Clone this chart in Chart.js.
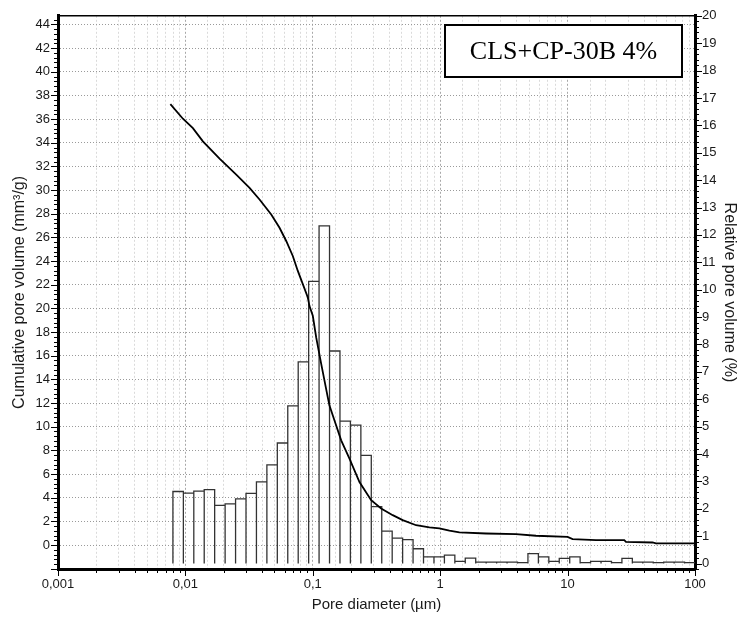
<!DOCTYPE html>
<html>
<head>
<meta charset="utf-8">
<script src="https://cdn.jsdelivr.net/npm/chart.js@4.4.1/dist/chart.umd.min.js"></script>
<style>
html,body{margin:0;padding:0;background:#fff;}
canvas{display:block;}
</style>
</head>
<body>
<canvas id="c" width="741" height="619"></canvas>
<script>
// ---- Data ----
// Histogram bin edges (pore diameter, µm) – 50 log-spaced classes
const binEdges = [0.00798, 0.00964, 0.01164, 0.01405, 0.01697, 0.02050, 0.02476, 0.02990, 0.03611, 0.04361,
  0.05266, 0.06360, 0.07681, 0.09279, 0.1120, 0.1353, 0.1634, 0.1973, 0.2384, 0.2878,
  0.3477, 0.4199, 0.5071, 0.6124, 0.7396, 0.8934, 1.079, 1.303, 1.573, 1.900,
  2.295, 2.772, 3.348, 4.044, 4.883, 5.898, 7.123, 8.601, 10.39, 12.54,
  15.15, 18.30, 22.10, 26.69, 32.23, 38.92, 47.01, 56.77, 68.57, 82.79, 100];
// Relative pore volume (%) per class
const relVolume = [2.63, 2.57, 2.64, 2.70, 2.12, 2.18, 2.36, 2.56, 2.98, 3.60,
  4.40, 5.76, 7.36, 10.30, 12.33, 7.76, 5.20, 5.05, 3.95, 2.08,
  1.18, 0.93, 0.87, 0.54, 0.24, 0.24, 0.31, 0.08, 0.20, 0.05,
  0.05, 0.05, 0.05, 0.03, 0.36, 0.24, 0.08, 0.19, 0.24, 0.03,
  0.08, 0.08, 0.03, 0.19, 0.05, 0.05, 0.03, 0.05, 0.05, 0.03];
// Cumulative pore volume curve (mm³/g)
const curveDiameter = [0.00762, 0.00956, 0.01145, 0.01372, 0.01854, 0.02507, 0.03188, 0.03819, 0.04718, 0.0548,
  0.06185, 0.06966, 0.07627, 0.0835, 0.0914, 0.0942, 0.1, 0.1063, 0.1164, 0.1311,
  0.1352, 0.148, 0.167, 0.194, 0.2324, 0.2871, 0.3439, 0.424, 0.5079, 0.6471,
  0.8228, 0.9856, 1.181, 1.415, 2.291, 3.939, 5.652, 10.0, 10.95, 16.7,
  27.85, 28.71, 46.42, 49.36, 100];
const curveCumVolume = [37.26, 36.03, 35.24, 34.12, 32.66, 31.31, 30.19, 29.21, 27.94, 26.82,
  25.70, 24.43, 23.17, 22.05, 20.92, 20.2, 19.38, 17.55, 15.31, 12.49,
  11.79, 10.53, 8.85, 7.30, 5.33, 3.79, 3.09, 2.53, 2.11, 1.68,
  1.50, 1.42, 1.22, 1.07, 0.98, 0.93, 0.79, 0.70, 0.51, 0.42,
  0.42, 0.28, 0.22, 0.14, 0.14];
// Tick labels
const xTickValues = [0.001, 0.01, 0.1, 1, 10, 100];
const xTickLabels = ['0,001', '0,01', '0,1', '1', '10', '100'];
const leftTicks = [0, 2, 4, 6, 8, 10, 12, 14, 16, 18, 20, 22, 24, 26, 28, 30, 32, 34, 36, 38, 40, 42, 44];
const rightTicks = [0, 1, 2, 3, 4, 5, 6, 7, 8, 9, 10, 11, 12, 13, 14, 15, 16, 17, 18, 19, 20];
const boxLabel = 'CLS+CP-30B 4%';
const xTitle = 'Pore diameter (µm)';
const yLeftTitle = 'Cumulative pore volume (mm³/g)';
const yRightTitle = 'Relative pore volume (%)';

// ---- Build datasets ----
const histPoints = [];
relVolume.forEach((h, i) => {
  histPoints.push({x: binEdges[i], y: 0}, {x: binEdges[i], y: h},
                  {x: binEdges[i + 1], y: h}, {x: binEdges[i + 1], y: 0});
});
const curvePoints = curveDiameter.map((d, i) => ({x: d, y: curveCumVolume[i]}));

const FONT = "'Liberation Sans', Arial, sans-serif";
const isDecade = v => Math.abs(Math.log10(v) - Math.round(Math.log10(v))) < 1e-6;

const bgPlugin = {
  id: 'bg',
  beforeDraw(chart) {
    const {ctx} = chart;
    ctx.save(); ctx.fillStyle = '#fff'; ctx.fillRect(0, 0, chart.width, chart.height); ctx.restore();
  }
};

const decoPlugin = {
  id: 'deco',
  afterDraw(chart) {
    const {ctx, chartArea: a, scales} = chart;
    ctx.save();
    ctx.strokeStyle = '#000';
    ctx.lineWidth = 1;
    // left axis ticks
    const yl = scales.y;
    for (let i = Math.ceil(yl.min / 0.4 - 1e-9); i * 0.4 <= yl.max + 1e-9; i++) {
      const p = Math.round(yl.getPixelForValue(i * 0.4)) + 0.5;
      const major = i % 5 === 0;
      ctx.beginPath(); ctx.moveTo(a.left - 1, p); ctx.lineTo(a.left - (major ? 7 : 4), p); ctx.stroke();
    }
    // right axis ticks
    const yr = scales.yR;
    for (let i = Math.ceil(yr.min / 0.2 - 1e-9); i * 0.2 <= yr.max + 1e-9; i++) {
      const p = Math.round(yr.getPixelForValue(i * 0.2)) + 0.5;
      const major = i % 5 === 0;
      ctx.beginPath(); ctx.moveTo(a.right + 1, p); ctx.lineTo(a.right + (major ? 7 : 4), p); ctx.stroke();
    }
    // x axis ticks
    const xs = scales.x;
    for (let e = -3; e <= 2; e++) {
      for (let m = 1; m <= 9; m++) {
        const v = m * Math.pow(10, e);
        if (v > 100.0001) break;
        const p = Math.round(xs.getPixelForValue(v)) + 0.5;
        ctx.beginPath(); ctx.moveTo(p, a.bottom + 1); ctx.lineTo(p, a.bottom + (m === 1 ? 7 : 4)); ctx.stroke();
      }
    }
    // top frame line
    ctx.lineWidth = 1.5;
    ctx.beginPath(); ctx.moveTo(a.left, a.top); ctx.lineTo(a.right, a.top); ctx.stroke();
    // label box
    const bx = 445, by = 25, bw = 237, bh = 52;
    ctx.fillStyle = '#fff';
    ctx.fillRect(bx, by, bw, bh);
    ctx.lineWidth = 2;
    ctx.strokeRect(bx, by, bw, bh);
    ctx.fillStyle = '#000';
    ctx.font = "26px 'Liberation Serif', 'Times New Roman', serif";
    ctx.textAlign = 'center';
    ctx.textBaseline = 'middle';
    ctx.fillText(boxLabel, bx + bw / 2, by + bh / 2 + 1);
    ctx.restore();
  }
};

new Chart(document.getElementById('c'), {
  type: 'scatter',
  data: {
    datasets: [
      {
        label: 'relative',
        data: histPoints,
        yAxisID: 'yR',
        showLine: true,
        borderColor: '#333',
        borderWidth: 1.3,
        pointRadius: 0,
        fill: false,
        tension: 0,
        order: 2
      },
      {
        label: 'cumulative',
        data: curvePoints,
        yAxisID: 'y',
        showLine: true,
        borderColor: '#000',
        borderWidth: 1.8,
        pointRadius: 0,
        fill: false,
        tension: 0,
        order: 1
      }
    ]
  },
  options: {
    responsive: false,
    animation: false,
    devicePixelRatio: 1,
    layout: {padding: {top: 14, left: 0, right: 0, bottom: 0}},
    plugins: {legend: {display: false}, tooltip: {enabled: false}},
    scales: {
      x: {
        type: 'logarithmic',
        position: 'bottom',
        min: 0.001,
        max: 100,
        afterFit: s => { s.height = 50; },
        grid: {
          drawTicks: false,
          lineWidth: 1,
          color: c => (c.tick && isDecade(c.tick.value)) ? '#a8a8a8' : '#dadada'
        },
        border: {display: true, width: 3, color: '#000', dash: [2, 2]},
        ticks: {
          autoSkip: false,
          maxRotation: 0,
          minRotation: 0,
          padding: 8,
          color: '#1a1a1a',
          font: {family: FONT, size: 13},
          callback: v => {
            const k = xTickValues.findIndex(t => Math.abs(t - v) / t < 1e-6);
            return k >= 0 ? xTickLabels[k] : '';
          }
        },
        title: {display: true, text: xTitle, color: '#1a1a1a', font: {family: FONT, size: 15}, padding: {top: 0, bottom: 5}}
      },
      y: {
        type: 'linear',
        position: 'left',
        min: -2.02,
        max: 44.73,
        afterFit: s => { s.width = 58; },
        afterBuildTicks: s => { s.ticks = leftTicks.map(v => ({value: v})); },
        grid: {drawTicks: false, lineWidth: 1, color: '#9a9a9a'},
        border: {display: true, width: 3, color: '#000', dash: [1, 2]},
        ticks: {padding: 8, color: '#1a1a1a', font: {family: FONT, size: 13}, callback: v => String(v)},
        title: {display: true, text: yLeftTitle, color: '#1a1a1a', font: {family: FONT, size: 16}, padding: {top: 10, bottom: 0}}
      },
      yR: {
        type: 'linear',
        position: 'right',
        min: -0.2,
        max: 20,
        afterFit: s => { s.width = 46; },
        afterBuildTicks: s => { s.ticks = rightTicks.map(v => ({value: v})); },
        grid: {drawOnChartArea: false, drawTicks: false},
        border: {display: true, width: 3, color: '#000'},
        ticks: {padding: 7, color: '#1a1a1a', font: {family: FONT, size: 13}, callback: v => String(v)},
        title: {display: true, text: yRightTitle, color: '#1a1a1a', font: {family: FONT, size: 16}, padding: {top: 2, bottom: 0}}
      }
    }
  },
  plugins: [bgPlugin, decoPlugin]
});
</script>
</body>
</html>
